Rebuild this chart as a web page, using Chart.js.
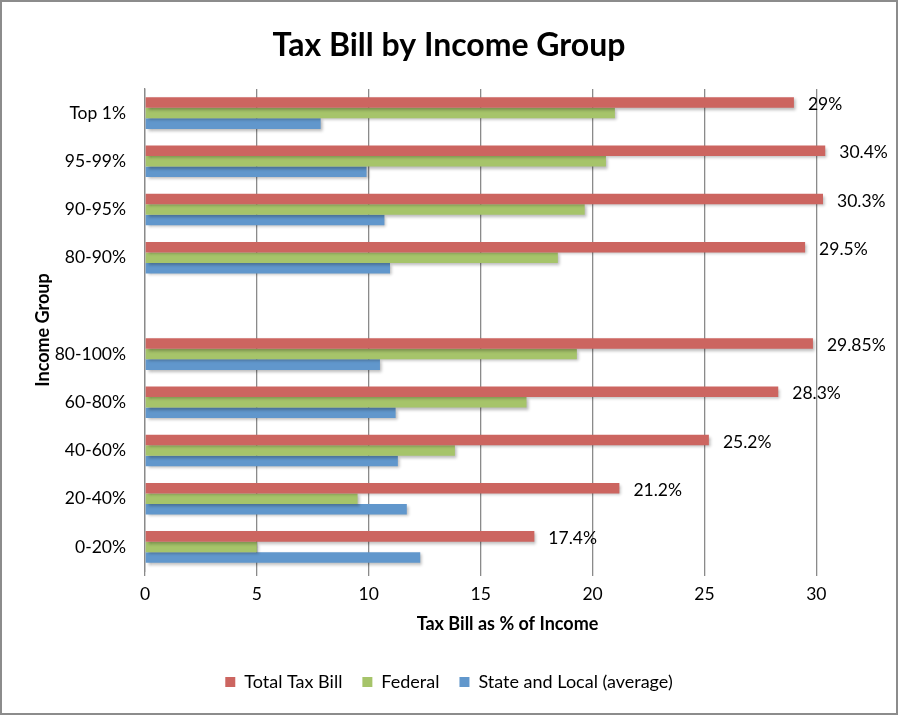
<!DOCTYPE html>
<html>
<head>
<meta charset="utf-8">
<script src="https://cdn.jsdelivr.net/npm/chart.js@4/dist/chart.umd.min.js"></script>
<style>
  body { margin: 0; background: #fff; }
  #wrap { width: 894px; height: 711px; border: 2px solid #8c8c8c; }
</style>
</head>
<body>
<div id="wrap"><canvas id="taxChart" width="894" height="711"></canvas></div>
<script>
// data, top row first
var groups = ["Top 1%", "95-99%", "90-95%", "80-90%", "", "80-100%", "60-80%", "40-60%", "20-40%", "0-20%"];
var totalBill = [29, 30.4, 30.3, 29.5, null, 29.85, 28.3, 25.2, 21.2, 17.4];
var federal = [21.0, 20.6, 19.65, 18.45, null, 19.3, 17.05, 13.85, 9.5, 5.0];
var stateLocal = [7.85, 9.9, 10.7, 10.95, null, 10.5, 11.2, 11.3, 11.7, 12.3];
var totalLabels = ["29%", "30.4%", "30.3%", "29.5%", "", "29.85%", "28.3%", "25.2%", "21.2%", "17.4%"];
var xTicks = [0, 5, 10, 15, 20, 25, 30];

var fontFam = "Lato, 'Open Sans', sans-serif";

// excel style soft shadow under the bars
var barShadow = {
  id: 'barShadow',
  beforeDatasetsDraw: function (chart) {
    var ctx = chart.ctx;
    ctx.save();
    ctx.shadowColor = 'rgba(0,0,0,0.28)';
    ctx.shadowBlur = 3;
    ctx.shadowOffsetX = 2;
    ctx.shadowOffsetY = 2;
  },
  afterDatasetsDraw: function (chart) {
    chart.ctx.restore();
  }
};

// value labels next to the Total Tax Bill bars
var totalText = {
  id: 'totalText',
  afterDatasetsDraw: function (chart) {
    var ctx = chart.ctx;
    var meta = chart.getDatasetMeta(0);
    ctx.save();
    ctx.shadowColor = 'transparent';
    ctx.font = "17.5px " + fontFam;
    ctx.fillStyle = '#000';
    ctx.textAlign = 'left';
    ctx.textBaseline = 'middle';
    meta.data.forEach(function (bar, i) {
      if (totalBill[i] == null) return;
      ctx.fillText(totalLabels[i], bar.x + 14, bar.y + 2);
    });
    ctx.restore();
  }
};

new Chart(document.getElementById("taxChart"), {
  type: 'bar',
  data: {
    labels: groups,
    datasets: [
      { label: "Total Tax Bill", data: totalBill, backgroundColor: "#cc6560" },
      { label: "Federal", data: federal, backgroundColor: "#a6c46a" },
      { label: "State and Local (average)", data: stateLocal, backgroundColor: "#6197cc" }
    ]
  },
  options: {
    indexAxis: 'y',
    responsive: false,
    animation: false,
    datasets: { bar: { categoryPercentage: 0.655, barPercentage: 1 } },
    layout: { padding: { left: 26, right: 26, top: 0, bottom: 12 } },
    plugins: {
      tooltip: { enabled: false },
      title: {
        display: true,
        text: 'Tax Bill by Income Group',
        color: '#000',
        font: { family: fontFam, size: 32, weight: 'bold' },
        padding: { top: 24, bottom: 24.6 }
      },
      legend: {
        position: 'bottom',
        labels: {
          color: '#000',
          font: { family: fontFam, size: 18 },
          boxWidth: 10,
          boxHeight: 10,
          padding: 20
        }
      }
    },
    scales: {
      x: {
        min: 0,
        max: 32.4,
        afterBuildTicks: function (axis) {
          axis.ticks = xTicks.map(function (v) { return { value: v }; });
        },
        afterFit: function (scale) { scale.height = 82; },
        grid: { color: '#8a8a8a', lineWidth: 1.3, tickLength: 5, drawTicks: true },
        border: { display: false },
        ticks: { color: '#000', padding: 8, font: { family: fontFam, size: 17.5 } },
        title: {
          display: true,
          text: 'Tax Bill as % of Income',
          color: '#000',
          font: { family: fontFam, size: 18, weight: 'bold' },
          padding: { top: 10, bottom: 18 }
        }
      },
      y: {
        afterFit: function (scale) { scale.width = 117; },
        grid: { display: false, drawTicks: false },
        border: { display: true, color: '#8a8a8a', width: 1.3 },
        ticks: { color: '#000', padding: 19, font: { family: fontFam, size: 17.5 } },
        title: {
          display: true,
          text: 'Income Group',
          color: '#000',
          font: { family: fontFam, size: 18, weight: 'bold' },
          padding: 4
        }
      }
    }
  },
  plugins: [barShadow, totalText]
});
</script>
</body>
</html>
